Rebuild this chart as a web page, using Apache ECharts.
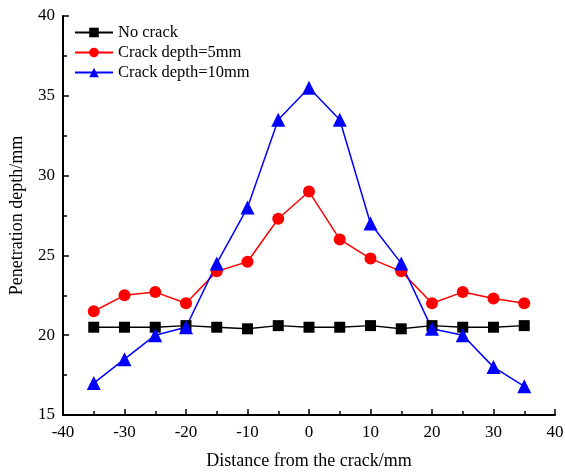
<!DOCTYPE html>
<html>
<head>
<meta charset="utf-8">
<script src="https://cdn.jsdelivr.net/npm/echarts@6/dist/echarts.min.js"></script>
<style>
  html, body { margin: 0; padding: 0; background: #fff; }
  #chart { width: 565px; height: 472px; }
</style>
</head>
<body>
<div id="chart"></div>
<script>
// distance from the crack (mm)
var distances = [-35, -30, -25, -20, -15, -10, -5, 0, 5, 10, 15, 20, 25, 30, 35]
// penetration depth (mm)
var noCrack = [20.5, 20.5, 20.5, 20.6, 20.5, 20.4, 20.6, 20.5, 20.5, 20.6, 20.4, 20.6, 20.5, 20.5, 20.6]
var crack5 = [21.5, 22.5, 22.7, 22.0, 24.0, 24.6, 27.3, 29.0, 26.0, 24.8, 24.0, 22.0, 22.7, 22.3, 22.0]
var crack10 = [17.0, 18.5, 20.0, 20.5, 24.5, 28.0, 33.5, 35.5, 33.5, 27.0, 24.5, 20.4, 20.0, 18.0, 16.8]

var seriesNames = ['No crack', 'Crack depth=5mm', 'Crack depth=10mm']

function pairs(ys) {
  return distances.map((x, i) => [x, ys[i]])
}

var chart = echarts.init(document.getElementById('chart'))
var font = 'Liberation Serif, Times New Roman, serif'
var axisLine = { show: true, onZero: false, lineStyle: { color: '#000', width: 2 } }

chart.setOption({
  animation: false,
  textStyle: { fontFamily: font },
  grid: { left: 63, right: 10, top: 16, bottom: 57, outerBoundsMode: 'none', containLabel: false },
  legend: {
    orient: 'vertical',
    left: 69,
    top: 19,
    itemWidth: 38,
    itemHeight: 12,
    itemGap: 3,
    textStyle: { fontFamily: font, fontSize: 16.5, color: '#000' },
    data: seriesNames
  },
  xAxis: {
    type: 'value',
    min: -40,
    max: 40,
    interval: 10,
    name: 'Distance from the crack/mm',
    nameLocation: 'middle',
    nameGap: 37,
    nameTextStyle: { fontSize: 18, color: '#000', fontFamily: font },
    axisLine: axisLine,
    axisTick: { inside: true, length: 6, lineStyle: { color: '#000', width: 1.5 } },
    minorTick: { show: true, splitNumber: 2, length: 4, lineStyle: { color: '#000', width: 1.5 } },
    axisLabel: { fontSize: 17, color: '#000', margin: 9, fontFamily: font },
    splitLine: { show: false }
  },
  yAxis: {
    type: 'value',
    min: 15,
    max: 40,
    interval: 5,
    name: 'Penetration depth/mm',
    nameLocation: 'middle',
    nameGap: 37,
    nameTextStyle: { fontSize: 18, color: '#000', fontFamily: font },
    axisLine: axisLine,
    axisTick: { inside: true, length: 6, lineStyle: { color: '#000', width: 1.5 } },
    minorTick: { show: true, splitNumber: 2, length: 4, lineStyle: { color: '#000', width: 1.5 } },
    axisLabel: { fontSize: 17, color: '#000', margin: 8, fontFamily: font },
    splitLine: { show: false }
  },
  series: [
    {
      name: seriesNames[0],
      type: 'line',
      data: pairs(noCrack),
      symbol: 'rect',
      symbolSize: 11,
      color: '#000',
      lineStyle: { width: 1.5 }
    },
    {
      name: seriesNames[1],
      type: 'line',
      data: pairs(crack5),
      symbol: 'circle',
      symbolSize: 12,
      color: '#ff0000',
      lineStyle: { width: 1.5 }
    },
    {
      name: seriesNames[2],
      type: 'line',
      data: pairs(crack10),
      symbol: 'triangle',
      symbolSize: 14,
      color: '#0000ff',
      lineStyle: { width: 1.5 }
    }
  ]
})
</script>
</body>
</html>
